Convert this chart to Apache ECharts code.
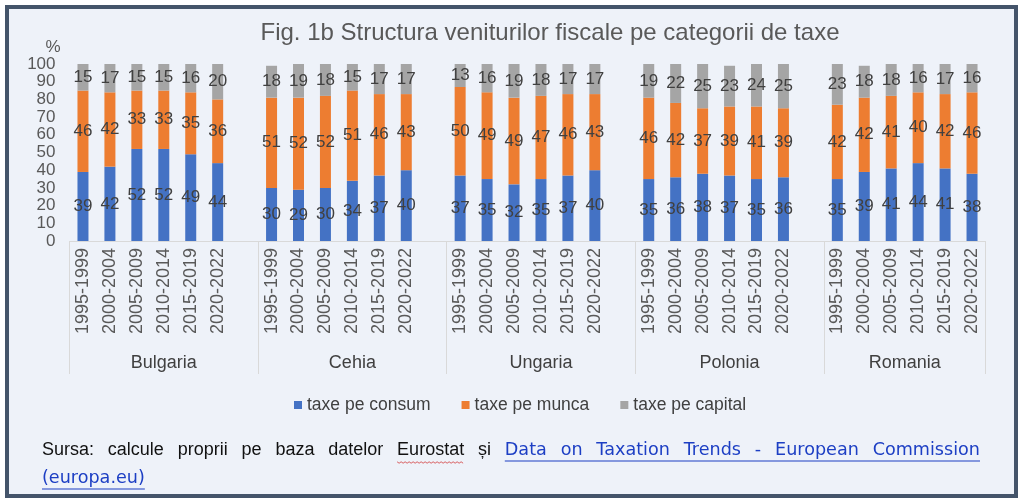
<!DOCTYPE html>
<html><head><meta charset="utf-8">
<script src="https://cdn.jsdelivr.net/npm/echarts@6/dist/echarts.min.js"></script>
<style>html,body{margin:0;padding:0;background:#fff}#c{width:1024px;height:504px}</style>
</head><body><div id="c"></div>
<script>
// ---- data ----
const countries = ['Bulgaria', 'Cehia', 'Ungaria', 'Polonia', 'Romania'];
const periods = ['1995-1999', '2000-2004', '2005-2009', '2010-2014', '2015-2019', '2020-2022'];
const seriesNames = ['taxe pe consum', 'taxe pe munca', 'taxe pe capital'];
// values in country order, six periods each
const consum  = [39,42,52,52,49,44, 30,29,30,34,37,40, 37,35,32,35,37,40, 35,36,38,37,35,36, 35,39,41,44,41,38];
const munca   = [46,42,33,33,35,36, 51,52,52,51,46,43, 50,49,49,47,46,43, 46,42,37,39,41,39, 42,42,41,40,42,46];
const capital = [15,17,15,15,16,20, 18,19,18,15,17,17, 13,16,19,18,17,17, 19,22,25,23,24,25, 23,18,18,16,17,16];
const yTickStep = 10;

// ---- build category axis with a blank slot after each group except the last ----
const cats = [], groupStart = [], groupSpan = [];
countries.forEach((c, i) => {
  groupStart.push(cats.length);
  periods.forEach(p => cats.push(p));
  if (i < countries.length - 1) cats.push('');
  groupSpan.push(cats.length - groupStart[i]);
});
function expand(arr) {
  const out = [];
  countries.forEach((c, i) => {
    periods.forEach((p, j) => out.push(arr[i * periods.length + j]));
    if (i < countries.length - 1) out.push(null);
  });
  return out;
}
const colors = ['#4472C4', '#ED7D31', '#A5A5A5'];
const values = [consum, munca, capital];

const chart = echarts.init(document.getElementById('c'), null, {renderer: 'canvas'});
const FONT = "'Liberation Sans', Arial, sans-serif";

// ---- footnote layout (justified first line) ----
const ctx = document.createElement('canvas').getContext('2d');
function tw(text, font) { ctx.font = font; return ctx.measureText(text).width; }
const blackFont = "18px 'Liberation Sans', Arial, sans-serif";
const linkFont = "17.6px 'DejaVu Sans', Verdana, sans-serif";
const blackWords = ['Sursa:', 'calcule', 'proprii', 'pe', 'baza', 'datelor', 'Eurostat', 'și'];
const linkWords = ['Data', 'on', 'Taxation', 'Trends', '-', 'European', 'Commission'];
const words = blackWords.map(w => ({t: w, f: blackFont, link: false}))
  .concat(linkWords.map(w => ({t: w, f: linkFont, link: true})));
const lineL = 42, lineR = 980, line1Y = 450, line2Y = 478;
let sumW = 0; words.forEach(w => { w.w = tw(w.t, w.f); sumW += w.w; });
const gap = (lineR - lineL - sumW) / (words.length - 1);
const foot = [];
let x = lineL, linkStart = null, euroX = null, euroW = 0;
words.forEach(w => {
  foot.push({type: 'text', x: x, y: line1Y, style: {text: w.t, font: w.f, fill: w.link ? '#1d3fc4' : '#111111', textAlign: 'left', textVerticalAlign: 'middle'}});
  if (w.link && linkStart === null) linkStart = x;
  if (w.t === 'Eurostat') { euroX = x; euroW = w.w; }
  x += w.w + gap;
});
foot.push({type: 'line', shape: {x1: linkStart, y1: line1Y + 11, x2: lineR, y2: line1Y + 11}, style: {stroke: '#1d3fc4', lineWidth: 1.2}});
const w2 = tw('(europa.eu)', linkFont);
foot.push({type: 'text', x: lineL, y: line2Y, style: {text: '(europa.eu)', font: linkFont, fill: '#1d3fc4', textAlign: 'left', textVerticalAlign: 'middle'}});
foot.push({type: 'line', shape: {x1: lineL, y1: line2Y + 11, x2: lineL + w2, y2: line2Y + 11}, style: {stroke: '#1d3fc4', lineWidth: 1.2}});
// spell-check squiggle under "Eurostat"
const sq = [];
for (let px = 0; px <= euroW; px += 2) sq.push([euroX + px, line1Y + 12 + ((px / 2) % 2 ? 1.2 : -0.2)]);
foot.push({type: 'polyline', shape: {points: sq}, style: {stroke: '#d23a3a', lineWidth: 0.8, fill: null}});

const option = {
  backgroundColor: '#ffffff',
  animation: false,
  color: colors,
  grid: {left: 69.5, right: 38.5, top: 64, bottom: 263, containLabel: false},
  legend: {
    data: seriesNames, left: 289, top: 391, icon: 'rect', itemWidth: 8, itemHeight: 8, itemGap: 31,
    textStyle: {fontSize: 17.5, color: '#404040', fontFamily: FONT}
  },
  xAxis: [{
    type: 'category', data: cats, gridIndex: 0,
    axisLine: {lineStyle: {color: '#d9d9d9', width: 1}},
    axisTick: {show: true, length: 133, interval: idx => groupStart.includes(idx), lineStyle: {color: '#d9d9d9', width: 1}},
    axisLabel: {interval: 0, rotate: 90, fontSize: 18, color: '#595959', margin: 7, fontFamily: FONT}
  }, {
    type: 'value', gridIndex: 0, position: 'bottom', min: 0, max: cats.length, interval: 0.5,
    axisLine: {show: false}, axisTick: {show: false}, splitLine: {show: false},
    axisLabel: {
      margin: 113, fontSize: 18, color: '#404040', fontFamily: FONT, showMinLabel: true, showMaxLabel: true,
      formatter: v => {
        for (let i = 0; i < countries.length; i++) {
          if (Math.abs(groupStart[i] + groupSpan[i] / 2 - v) < 1e-6) return countries[i];
        }
        return '';
      }
    }
  }],
  yAxis: {
    type: 'value', min: 0, max: 100, interval: yTickStep,
    axisLine: {show: false}, axisTick: {show: false}, splitLine: {show: false},
    axisLabel: {fontSize: 17, color: '#595959', margin: 14, fontFamily: FONT}
  },
  series: values.map((arr, k) => ({
    name: seriesNames[k], type: 'bar', stack: 'total', barWidth: 11, xAxisIndex: 0,
    data: expand(arr),
    itemStyle: {color: colors[k]},
    label: {show: true, position: 'inside', fontSize: 17, color: '#404040', fontFamily: FONT, textBorderWidth: 0,
      formatter: p => (p.value == null ? '' : String(p.value))}
  })),
  graphic: [
    {type: 'rect', z: -10, shape: {x: 7, y: 7, width: 1009, height: 489}, style: {fill: '#eef2f9', stroke: '#44546a', lineWidth: 4}},
    {type: 'text', x: 550, y: 33, style: {text: 'Fig. 1b Structura veniturilor fiscale pe categorii de taxe', font: "24px 'Liberation Sans', Arial, sans-serif", fill: '#595959', textAlign: 'center', textVerticalAlign: 'middle'}},
    {type: 'text', x: 53, y: 47, style: {text: '%', font: "17px 'Liberation Sans', Arial, sans-serif", fill: '#595959', textAlign: 'center', textVerticalAlign: 'middle'}}
  ].concat(foot)
};
chart.setOption(option);
</script>
</body></html>
